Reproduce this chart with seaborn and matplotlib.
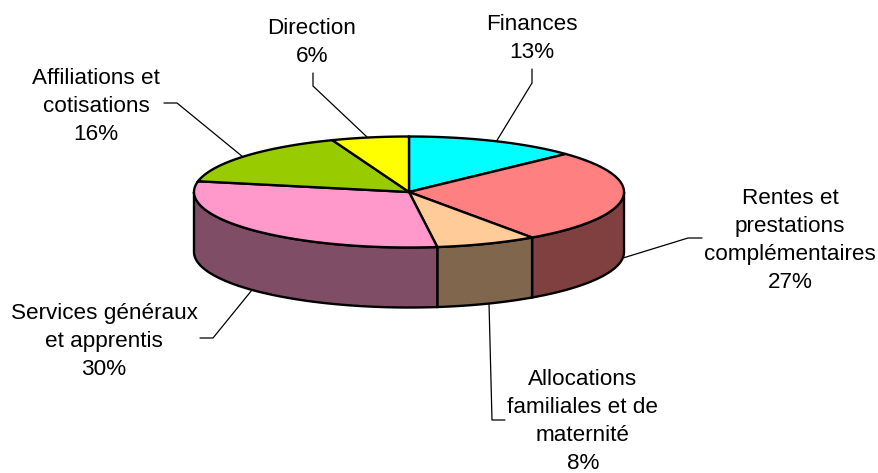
import numpy as np
import pandas as pd
import matplotlib
matplotlib.use("Agg")
import matplotlib.pyplot as plt
from matplotlib.patches import Polygon
import seaborn as sns

# shares going clockwise from the top
categories = ["Finances", "Rentes et\nprestations\ncomplémentaires", "Allocations\nfamiliales et de\nmaternité",
              "Services généraux\net apprentis", "Affiliations et\ncotisations", "Direction"]
shares = [13.0, 27.3, 7.6, 30.2, 16.1, 5.8]
top_colors = ["#00FFFF", "#FF8080", "#FFCC99", "#FF99CC", "#99CC00", "#FFFF00"]

sns.set_theme(style="white")
plt.rcParams["font.family"] = ["Liberation Sans", "DejaVu Sans"]

df = pd.DataFrame({"name": categories, "share": shares, "color": top_colors})
df["end"] = df["share"].cumsum() / df["share"].sum() * 2 * np.pi
df["start"] = df["end"].shift(1, fill_value=0.0)

# pie geometry in pixels
cx, cy = 409, 192
rx, ry = 215, 55.5
depth = 60


def ell(t):
    return cx + rx * np.sin(t), cy - ry * np.cos(t)


def darker(c):
    r, g, b = matplotlib.colors.to_rgb(c)
    return (r * 0.5, g * 0.5, b * 0.5)


fig = plt.figure(figsize=(8.79, 4.73), dpi=100)
ax = fig.add_axes([0, 0, 1, 1])
ax.set_xlim(0, 879)
ax.set_ylim(473, 0)
ax.axis("off")

# side walls, only the front half of the ellipse shows
for _, row in df.iterrows():
    a = max(row["start"], np.pi / 2)
    b = min(row["end"], 3 * np.pi / 2)
    if a >= b:
        continue
    t = np.linspace(a, b, 80)
    x, y = ell(t)
    pts = np.r_[np.c_[x, y], np.c_[x[::-1], y[::-1] + depth]]
    ax.add_patch(Polygon(pts, closed=True, fc=darker(row["color"]), ec="black", lw=1.7, zorder=2))

# top faces
for _, row in df.iterrows():
    t = np.linspace(row["start"], row["end"], 120)
    x, y = ell(t)
    pts = np.r_[[[cx, cy]], np.c_[x, y]]
    ax.add_patch(Polygon(pts, closed=True, fc=row["color"], ec="black", lw=1.7, zorder=3))

# leader lines
leaders = [
    [(532, 69), (532, 83), (496, 142)],
    [(702, 238), (688, 238), (623, 258)],
    [(489, 303), (492, 420), (505, 420)],
    [(252, 290), (213, 338), (200, 338)],
    [(164, 103), (177, 103), (243, 157)],
    [(313, 73), (313, 86), (367, 137)],
]
for pts in leaders:
    xs, ys = zip(*pts)
    ax.plot(xs, ys, color="black", lw=0.9, zorder=1)

# labels
label_pos = [(532, 38.5), (790, 240.5), (583, 421.5), (104, 341.5), (96, 106.5), (312, 42.5)]
for (_, row), (lx, ly) in zip(df.iterrows(), label_pos):
    ax.text(lx, ly, f"{row['name']}\n{row['share']:.0f}%", ha="center", va="center",
            fontsize=16.2, color="black", linespacing=1.43)

fig.savefig("out.png", dpi=100, facecolor="white")
